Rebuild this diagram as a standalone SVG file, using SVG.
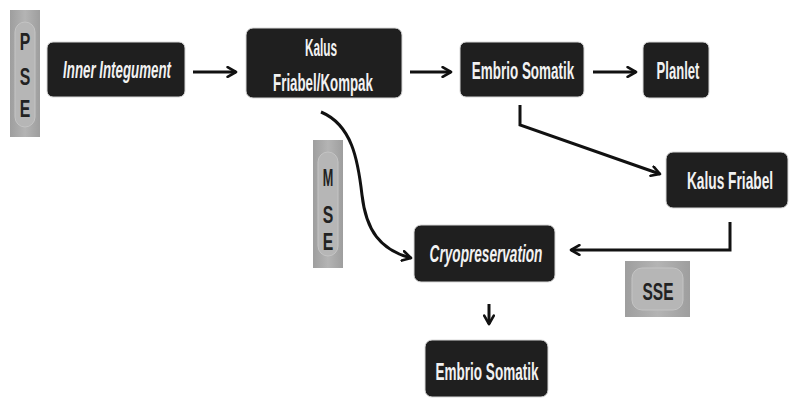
<svg xmlns="http://www.w3.org/2000/svg" width="790" height="398" viewBox="0 0 790 398">
<defs>
<marker id="ah" viewBox="0 0 10 10" refX="8" refY="5" markerWidth="4" markerHeight="4" orient="auto" markerUnits="strokeWidth">
<path d="M1,1 L8,5 L1,9" fill="none" stroke="#111" stroke-width="2.2" stroke-linecap="round" stroke-linejoin="round"/>
</marker>
<linearGradient id="gg" x1="0" y1="0" x2="1" y2="0">
<stop offset="0" stop-color="#9e9e9e"/><stop offset="0.5" stop-color="#b4b4b4"/><stop offset="1" stop-color="#9e9e9e"/>
</linearGradient>
</defs>
<style>
.box{fill:#1f1f1f;stroke:#d8d8d8;stroke-width:1}
.t{font-family:"Liberation Sans",Arial,sans-serif;font-weight:bold;font-size:23px;fill:#f2f2f2;text-anchor:middle}
.it{font-style:italic}
.g{fill:url(#gg)}
.gi{fill:#b6b6b6;stroke:#c4c4c4;stroke-width:1}
.gt{font-family:"Liberation Sans",Arial,sans-serif;font-weight:bold;font-size:23px;fill:#222;text-anchor:middle}
.c{fill:none;stroke:#111;stroke-width:3;marker-end:url(#ah)}
</style>
<rect width="790" height="398" fill="#ffffff"/>

<g id="pse">
<rect class="g" x="10" y="10" width="30" height="127"/>
<rect class="gi" x="15" y="22" width="20" height="105" rx="10"/>
<text class="gt" transform="translate(25,50) scale(0.62,1)" textLength="17" lengthAdjust="spacingAndGlyphs">P</text>
<text class="gt" transform="translate(25,85) scale(0.62,1)" textLength="17" lengthAdjust="spacingAndGlyphs">S</text>
<text class="gt" transform="translate(25,117) scale(0.62,1)" textLength="17" lengthAdjust="spacingAndGlyphs">E</text>
</g>

<g id="inner-integument">
<rect class="box" x="47" y="42" width="138" height="55" rx="6"/>
<text class="t it" transform="translate(117,78) scale(0.62,1)" textLength="174" lengthAdjust="spacingAndGlyphs">Inner Integument</text>
</g>

<g id="kalus-friabel-kompak">
<rect class="box" x="246" y="28" width="156" height="70" rx="7"/>
<text class="t" transform="translate(321,56) scale(0.62,1)" textLength="52" lengthAdjust="spacingAndGlyphs">Kalus</text>
<text class="t" transform="translate(323,91) scale(0.62,1)" textLength="161" lengthAdjust="spacingAndGlyphs">Friabel/Kompak</text>
</g>

<g id="embrio-somatik-1">
<rect class="box" x="460" y="42" width="124" height="55" rx="6"/>
<text class="t" transform="translate(523,79) scale(0.62,1)" textLength="165" lengthAdjust="spacingAndGlyphs">Embrio Somatik</text>
</g>

<g id="planlet">
<rect class="box" x="643" y="42" width="66" height="56" rx="6"/>
<text class="t" transform="translate(678,79) scale(0.62,1)" textLength="69" lengthAdjust="spacingAndGlyphs">Planlet</text>
</g>

<g id="kalus-friabel">
<rect class="box" x="666" y="152" width="122" height="56" rx="7"/>
<text class="t" transform="translate(730,189) scale(0.62,1)" textLength="139" lengthAdjust="spacingAndGlyphs">Kalus  Friabel</text>
</g>

<g id="mse">
<rect class="g" x="313" y="140" width="30" height="128"/>
<rect class="gi" x="318" y="152" width="20" height="104" rx="10"/>
<text class="gt" transform="translate(328,186) scale(0.62,1)" textLength="17" lengthAdjust="spacingAndGlyphs">M</text>
<text class="gt" transform="translate(328,223) scale(0.62,1)" textLength="17" lengthAdjust="spacingAndGlyphs">S</text>
<text class="gt" transform="translate(328,250) scale(0.62,1)" textLength="17" lengthAdjust="spacingAndGlyphs">E</text>
</g>

<g id="cryopreservation">
<rect class="box" x="414" y="225" width="141" height="57" rx="7"/>
<text class="t it" transform="translate(486,262) scale(0.62,1)" textLength="182" lengthAdjust="spacingAndGlyphs">Cryopreservation</text>
</g>

<g id="sse">
<rect class="g" x="625" y="261" width="65" height="56"/>
<rect class="gi" x="632" y="268" width="51" height="42" rx="10"/>
<text class="gt" transform="translate(658,300) scale(0.62,1)" textLength="50" lengthAdjust="spacingAndGlyphs">SSE</text>
</g>

<g id="embrio-somatik-2">
<rect class="box" x="425" y="340" width="123" height="57" rx="7"/>
<text class="t" transform="translate(487,380) scale(0.62,1)" textLength="166" lengthAdjust="spacingAndGlyphs">Embrio Somatik</text>
</g>

<g id="connectors">
<path class="c" d="M193,72 L236,72"/>
<path class="c" d="M410,72 L451,72"/>
<path class="c" d="M593,72 L636,72"/>
<path class="c" d="M520,105 L520,125 L660,174"/>
<path class="c" d="M730,222 L730,250 L571,250"/>
<path class="c" d="M321,112 C352,125 358,160 362,195 C366,230 380,250 411,258"/>
<path class="c" d="M489,304 L489,324"/>
</g>
</svg>
